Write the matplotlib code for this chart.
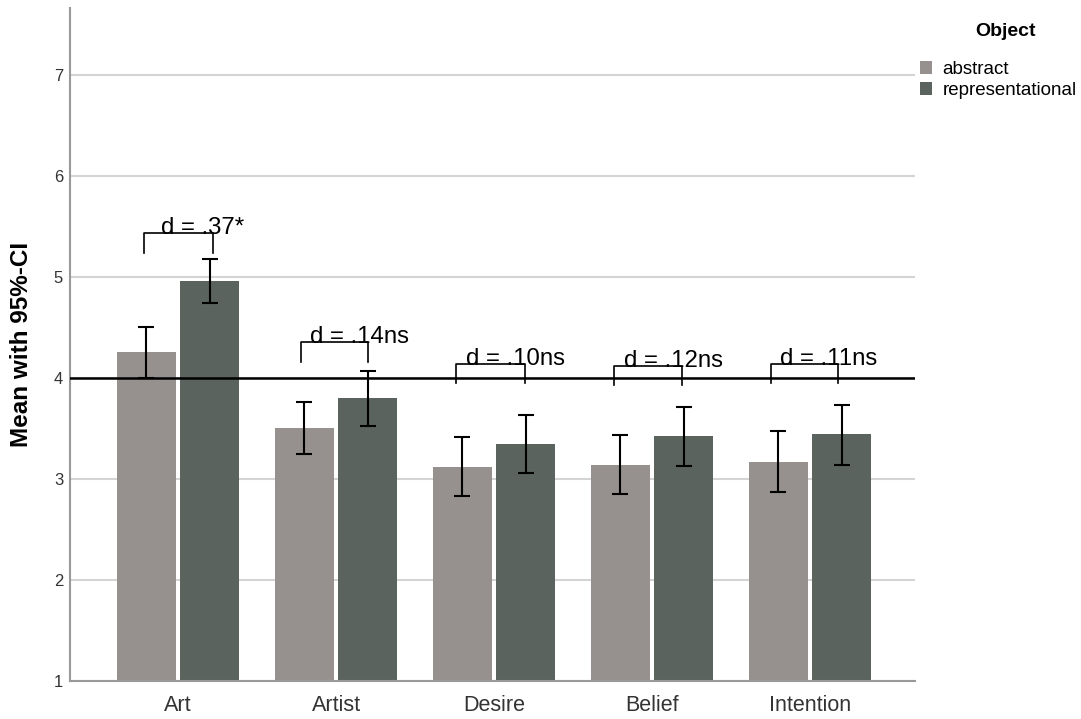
import numpy as np
import matplotlib
matplotlib.use("Agg")
import matplotlib.pyplot as plt

plt.rcParams['font.family'] = ['Liberation Sans', 'DejaVu Sans']

# data
categories = ["Art", "Artist", "Desire", "Belief", "Intention"]
abstract_mean = [4.26, 3.50, 3.12, 3.14, 3.17]
abstract_lo = [4.00, 3.25, 2.83, 2.85, 2.87]
abstract_hi = [4.50, 3.76, 3.41, 3.43, 3.47]
repr_mean = [4.96, 3.80, 3.35, 3.42, 3.44]
repr_lo = [4.74, 3.52, 3.06, 3.13, 3.14]
repr_hi = [5.18, 4.07, 3.63, 3.71, 3.73]
effect_labels = ["d = .37*", "d = .14ns", "d = .10ns", "d = .12ns", "d = .11ns"]
bracket_top = [5.43, 4.35, 4.14, 4.12, 4.14]

# hand-placed annotation layout (offsets from the category centre)
bracket_left = [-0.215, -0.222, -0.24, -0.24, -0.247]
bracket_right = [0.222, 0.203, 0.196, 0.19, 0.177]
text_left = [-0.108, -0.165, -0.177, -0.177, -0.19]

col_abs = "#96908e"
col_rep = "#5a635d"

fig = plt.figure(figsize=(10.81, 7.19), dpi=100)
ax = fig.add_axes([0.0648, 0.0529, 0.7816, 0.936])

x = np.arange(len(categories))
w = 0.37
off = 0.2

ax.bar(x - off, abstract_mean, width=w, color=col_abs, label="abstract", zorder=2)
ax.bar(x + off, repr_mean, width=w, color=col_rep, label="representational", zorder=2)

err_abs = [np.subtract(abstract_mean, abstract_lo), np.subtract(abstract_hi, abstract_mean)]
err_rep = [np.subtract(repr_mean, repr_lo), np.subtract(repr_hi, repr_mean)]
ax.errorbar(x - off, abstract_mean, yerr=err_abs, fmt="none", ecolor="black",
            elinewidth=1.5, capsize=6, capthick=1.5, zorder=3)
ax.errorbar(x + off, repr_mean, yerr=err_rep, fmt="none", ecolor="black",
            elinewidth=1.5, capsize=6, capthick=1.5, zorder=3)

# reference line at the scale midpoint
ax.axhline(4, color="black", lw=1.8, zorder=4)

# effect size brackets
leg_h = 0.19
for i, (lab, top) in enumerate(zip(effect_labels, bracket_top)):
    xl, xr = x[i] + bracket_left[i], x[i] + bracket_right[i]
    ax.plot([xl, xl, xr, xr], [top - leg_h, top, top, top - leg_h],
            color="black", lw=1.2, zorder=5)
    ax.text(x[i] + text_left[i], top - 0.01, lab, ha="left", va="baseline",
            fontsize=17.3, zorder=6)

ax.set_ylim(1, 7.66)
ax.set_xlim(-0.684, 4.665)
ax.set_yticks(range(1, 8))
ax.set_xticks(x)
ax.set_xticklabels(categories, fontsize=15.5, color="#333333")
ax.tick_params(axis="y", labelsize=12, length=0, pad=5, colors="#333333")
ax.tick_params(axis="x", length=0, pad=10)
ax.yaxis.grid(True, color="#d4d4d4", lw=1.5, zorder=0)
ax.set_axisbelow(True)

for s in ["top", "right"]:
    ax.spines[s].set_visible(False)
ax.spines["left"].set_color("#999999")
ax.spines["left"].set_linewidth(1.5)
ax.spines["bottom"].set_color("#999999")
ax.spines["bottom"].set_linewidth(1.5)

ax.set_ylabel("Mean with 95%-CI", fontsize=17.5, fontweight="bold", labelpad=15)

# legend: title drawn separately so the spacing matches
fig.text(1005 / 1081, 1 - 32 / 719, "Object", ha="center", va="center",
         fontsize=14, fontweight="bold")
handles, labels = ax.get_legend_handles_labels()
fig.legend(handles, labels, loc="upper left",
           bbox_to_anchor=(920 / 1081, 1 - 61 / 719), frameon=False,
           fontsize=13.5, handlelength=0.64, handleheight=0.64,
           handletextpad=0.55, labelspacing=0.22, borderpad=0,
           borderaxespad=0)

fig.savefig("out.png", dpi=100)
